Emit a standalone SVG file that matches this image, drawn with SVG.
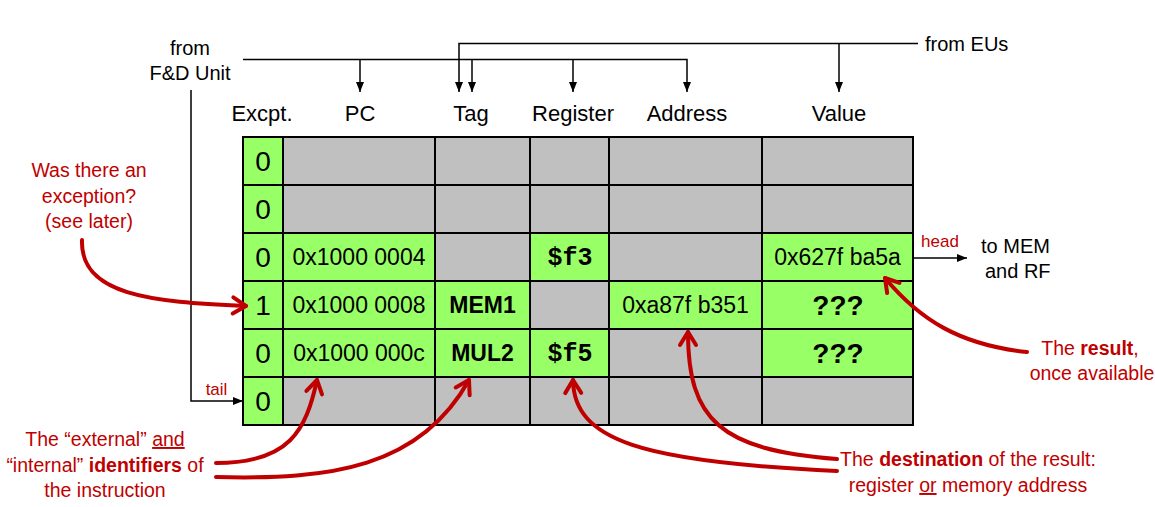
<svg xmlns="http://www.w3.org/2000/svg" width="1155" height="507" viewBox="0 0 1155 507">
<style>
  text { font-family: "Liberation Sans", Arial, sans-serif; }
  .g { fill: #c0c0c0; stroke: #000; stroke-width: 2; }
  .y { fill: #99ff66; stroke: #000; stroke-width: 2; }
  .hdr { font-size: 22px; text-anchor: middle; fill: #000; }
  .lbl { font-size: 20px; text-anchor: middle; fill: #000; }
  .val { font-size: 23px; text-anchor: middle; fill: #000; }
  .exc { font-size: 28px; text-anchor: middle; fill: #000; }
  .tag { font-size: 23px; font-weight: bold; text-anchor: middle; fill: #000; }
  .reg { font-family: "Liberation Mono", "Courier New", monospace; font-size: 25px; font-weight: bold; text-anchor: middle; fill: #000; }
  .q { font-size: 28px; font-weight: bold; text-anchor: middle; fill: #000; }
  .ann { font-size: 19.5px; text-anchor: middle; fill: #c00000; }
  .small { font-size: 17px; text-anchor: middle; fill: #c00000; }
  .b { font-weight: bold; }
  .u { text-decoration: underline; }
  .wire { stroke: #000; stroke-width: 1.5; fill: none; }
  .red { stroke: #c00000; stroke-width: 4; fill: none; stroke-linecap: round; }
</style>
<defs>
  <marker id="blk" markerUnits="userSpaceOnUse" viewBox="0 0 10 8" refX="10" refY="4" markerWidth="10" markerHeight="8" orient="auto">
    <path d="M0,0 L10,4 L0,8 z" fill="#000"/>
  </marker>
  <marker id="redA" markerUnits="userSpaceOnUse" viewBox="0 0 22 22" refX="18" refY="11" markerWidth="22" markerHeight="22" orient="auto">
    <path d="M5,3 L18,11 L5,19" fill="none" stroke="#c00000" stroke-width="4" stroke-linecap="round" stroke-linejoin="round"/>
  </marker>
</defs>

<g id="source-fd">
  <text class="lbl" x="190" y="55">from</text>
  <text class="lbl" x="190" y="80">F&amp;D Unit</text>
</g>
<g id="source-eus">
  <text x="925" y="51" style="font-size:20px;fill:#000">from EUs</text>
</g>

<g id="headers">
  <text class="hdr" x="262" y="121">Excpt.</text>
  <text class="hdr" x="360" y="121">PC</text>
  <text class="hdr" x="471" y="121">Tag</text>
  <text class="hdr" x="573" y="121">Register</text>
  <text class="hdr" x="687" y="121">Address</text>
  <text class="hdr" x="839" y="121">Value</text>
</g>

<g id="rob-table">
  <g id="row0">
    <rect class="y" x="243" y="137" width="40" height="48"/>
    <rect class="g" x="283" y="137" width="152" height="48"/>
    <rect class="g" x="435" y="137" width="95" height="48"/>
    <rect class="g" x="530" y="137" width="79" height="48"/>
    <rect class="g" x="609" y="137" width="153" height="48"/>
    <rect class="g" x="762" y="137" width="151" height="48"/>
    <text class="exc" x="263" y="171">0</text>
  </g>
  <g id="row1">
    <rect class="y" x="243" y="185" width="40" height="48"/>
    <rect class="g" x="283" y="185" width="152" height="48"/>
    <rect class="g" x="435" y="185" width="95" height="48"/>
    <rect class="g" x="530" y="185" width="79" height="48"/>
    <rect class="g" x="609" y="185" width="153" height="48"/>
    <rect class="g" x="762" y="185" width="151" height="48"/>
    <text class="exc" x="263" y="219">0</text>
  </g>
  <g id="row2">
    <rect class="y" x="243" y="233" width="40" height="48"/>
    <rect class="y" x="283" y="233" width="152" height="48"/>
    <rect class="g" x="435" y="233" width="95" height="48"/>
    <rect class="y" x="530" y="233" width="79" height="48"/>
    <rect class="g" x="609" y="233" width="153" height="48"/>
    <rect class="y" x="762" y="233" width="151" height="48"/>
    <text class="exc" x="263" y="267">0</text>
    <text class="val" x="359" y="265">0x1000 0004</text>
    <text class="reg" x="570" y="265">$f3</text>
    <text class="val" x="837.5" y="265">0x627f ba5a</text>
  </g>
  <g id="row3">
    <rect class="y" x="243" y="281" width="40" height="48"/>
    <rect class="y" x="283" y="281" width="152" height="48"/>
    <rect class="y" x="435" y="281" width="95" height="48"/>
    <rect class="g" x="530" y="281" width="79" height="48"/>
    <rect class="y" x="609" y="281" width="153" height="48"/>
    <rect class="y" x="762" y="281" width="151" height="48"/>
    <text class="exc" x="263" y="315">1</text>
    <text class="val" x="359" y="313">0x1000 0008</text>
    <text class="tag" x="482.5" y="313">MEM1</text>
    <text class="val" x="685.5" y="313">0xa87f b351</text>
    <text class="q" x="838" y="315">???</text>
  </g>
  <g id="row4">
    <rect class="y" x="243" y="329" width="40" height="48"/>
    <rect class="y" x="283" y="329" width="152" height="48"/>
    <rect class="y" x="435" y="329" width="95" height="48"/>
    <rect class="y" x="530" y="329" width="79" height="48"/>
    <rect class="g" x="609" y="329" width="153" height="48"/>
    <rect class="y" x="762" y="329" width="151" height="48"/>
    <text class="exc" x="263" y="363">0</text>
    <text class="val" x="359" y="361">0x1000 000c</text>
    <text class="tag" x="482.5" y="361">MUL2</text>
    <text class="reg" x="570" y="361">$f5</text>
    <text class="q" x="838" y="363">???</text>
  </g>
  <g id="row5">
    <rect class="y" x="243" y="377" width="40" height="48"/>
    <rect class="g" x="283" y="377" width="152" height="48"/>
    <rect class="g" x="435" y="377" width="95" height="48"/>
    <rect class="g" x="530" y="377" width="79" height="48"/>
    <rect class="g" x="609" y="377" width="153" height="48"/>
    <rect class="g" x="762" y="377" width="151" height="48"/>
    <text class="exc" x="263" y="411">0</text>
  </g>
</g>

<g id="pointer-labels">
  <text class="small" x="940" y="247">head</text>
  <text class="small" x="216.5" y="395">tail</text>
</g>

<g id="dest-mem-rf">
  <text x="981" y="253" style="font-size:20px;fill:#000">to MEM</text>
  <text x="985" y="278" style="font-size:20px;fill:#000">and RF</text>
</g>

<g id="note-exception">
  <text class="ann" x="89" y="177">Was there an</text>
  <text class="ann" x="89" y="203">exception?</text>
  <text class="ann" x="89" y="228">(see later)</text>
</g>
<g id="note-identifiers">
  <text class="ann" x="105" y="446">The “external” <tspan class="u">and</tspan></text>
  <text class="ann" x="105" y="472">“internal” <tspan class="b">identifiers</tspan> of</text>
  <text class="ann" x="105" y="497">the instruction</text>
</g>
<g id="note-destination">
  <text class="ann" x="968" y="466">The <tspan class="b">destination</tspan> of the result:</text>
  <text class="ann" x="968" y="492">register <tspan class="u">or</tspan> memory address</text>
</g>
<g id="note-result">
  <text class="ann" x="1090" y="355">The <tspan class="b">result</tspan>,</text>
  <text class="ann" x="1092" y="380">once available</text>
</g>

<g id="connectors">
  <!-- from F&D unit -->
  <polyline class="wire" points="243,59.5 687,59.5 687,92" marker-end="url(#blk)"/>
  <line class="wire" x1="360" y1="59.5" x2="360" y2="92" marker-end="url(#blk)"/>
  <line class="wire" x1="472" y1="59.5" x2="472" y2="92" marker-end="url(#blk)"/>
  <line class="wire" x1="573" y1="59.5" x2="573" y2="92" marker-end="url(#blk)"/>
  <!-- from EUs -->
  <polyline class="wire" points="918,43.5 459,43.5 459,92" marker-end="url(#blk)"/>
  <line class="wire" x1="839" y1="43.5" x2="839" y2="92" marker-end="url(#blk)"/>
  <!-- tail -->
  <polyline class="wire" points="191,90 191,401 243,401" marker-end="url(#blk)"/>
  <!-- head -->
  <line class="wire" x1="913" y1="258" x2="967" y2="258" marker-end="url(#blk)"/>

  <!-- red annotation arrows -->
  <path class="red" d="M82,240 C80,295 150,302 246,306" marker-end="url(#redA)"/>
  <path class="red" d="M216,463 C290,463 306,430 317,380" marker-end="url(#redA)"/>
  <path class="red" d="M216,477 C330,480 420,468 469,380" marker-end="url(#redA)"/>
  <path class="red" d="M837,471 C640,462 574,440 573,380" marker-end="url(#redA)"/>
  <path class="red" d="M837,459 C720,450 688,420 688,332" marker-end="url(#redA)"/>
  <path class="red" d="M1027,352 C960,345 920,320 885,278" marker-end="url(#redA)"/>
</g>
</svg>
